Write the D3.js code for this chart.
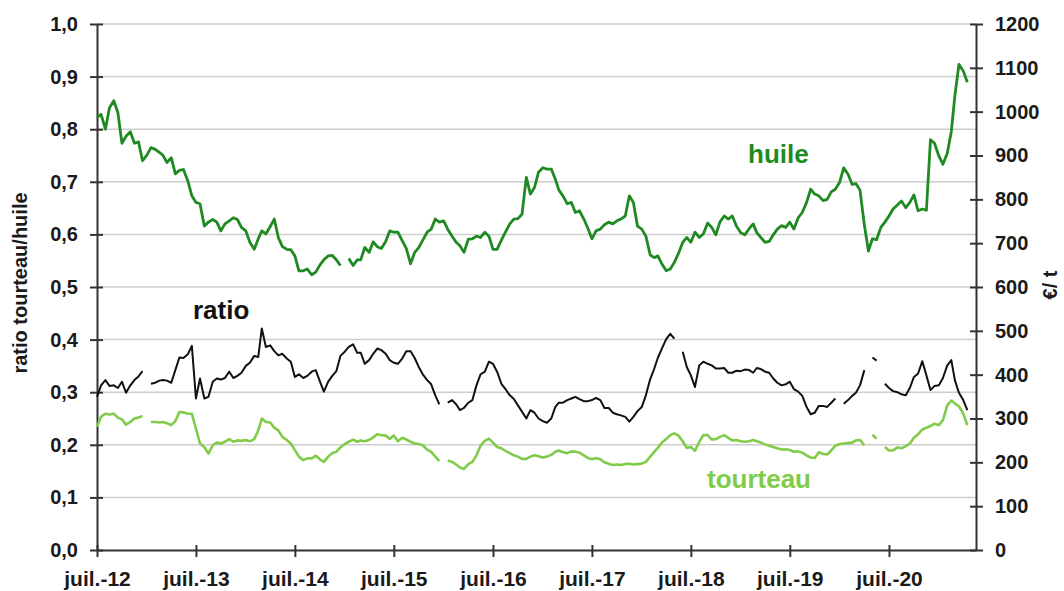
<!DOCTYPE html>
<html>
<head>
<meta charset="utf-8">
<script src="https://cdn.jsdelivr.net/npm/d3@7"></script>
<style>
  body { margin: 0; background: #fff; }
  svg text { font-family: "Liberation Sans", Arial, sans-serif; font-weight: bold; }
</style>
</head>
<body>
<svg id="chart" width="1064" height="591"></svg>
<script>
// semi-monthly series (1st and 16th of each month), starting 1 July 2012
// huile and tourteau in €/t (right axis), ratio on left axis
const huile = [
  986, 994, 960, 1009, 1025, 998, 928, 944, 954, 928,
  931, 888, 901, 918, 914, 907, 901, 884, 895, 858,
  866, 868, 842, 808, 793, 790, 739, 748, 754, 748,
  728, 744, 751, 758, 754, 736, 728, 702, 686, 710,
  728, 721, 738, 755, 713, 692, 686, 685, 671, 637,
  637, 641, 628, 634, 650, 662, 671, 672, 662, 649,
  null, 665, 649, 662, 662, 690, 679, 703, 692, 688,
  704, 728, 725, 725, 706, 688, 653, 679, 690, 707,
  725, 732, 755, 748, 751, 732, 716, 702, 694, 679,
  709, 710, 716, 713, 725, 716, 686, 686, 707, 725,
  744, 755, 756, 766, 850, 812, 827, 862, 872, 869,
  869, 846, 821, 808, 790, 793, 770, 774, 755, 734,
  710, 728, 732, 742, 748, 744, 751, 755, 762, 808,
  793, 739, 732, 716, 673, 667, 671, 653, 637, 641,
  656, 676, 702, 713, 702, 725, 713, 721, 746, 736,
  719, 748, 762, 755, 762, 739, 724, 719, 733, 744,
  724, 713, 702, 704, 719, 732, 740, 736, 748, 732,
  758, 770, 793, 823, 812, 808, 797, 800, 817, 823,
  839, 872, 857, 834, 836, 821, 742, 682, 710, 708,
  736, 748, 762, 778, 787, 796, 781, 793, 810, 774,
  778, 775, 936, 928, 899, 880, 905, 955, 1036, 1108,
  1093, 1067
];

const tourteau = [
  281, 304, 311, 309, 311, 302, 298, 286, 292, 300,
  302, 306, null, 292, 292, 291, 292, 289, 285, 294,
  315, 314, 311, 311, 277, 243, 235, 220, 239, 245,
  243, 247, 253, 247, 250, 249, 251, 248, 253, 273,
  300, 292, 291, 279, 273, 258, 251, 243, 228, 213,
  205, 209, 209, 215, 207, 201, 213, 221, 224, 234,
  242, 247, 252, 247, 250, 248, 251, 257, 264, 262,
  261, 253, 261, 248, 256, 252, 247, 243, 242, 239,
  229, 224, 213, 203, null, 204, 201, 195, 188, 185,
  196, 201, 216, 238, 249, 254, 245, 235, 232, 226,
  221, 216, 213, 208, 208, 213, 216, 214, 211, 213,
  217, 224, 227, 223, 221, 225, 224, 222, 216, 210,
  207, 210, 207, 200, 197, 194, 195, 194, 196, 197,
  195, 196, 197, 201, 213, 224, 233, 245, 253, 262,
  266, 261, 248, 233, 235, 226, 247, 262, 262, 252,
  253, 258, 262, 256, 250, 251, 248, 247, 248, 251,
  248, 245, 241, 238, 235, 232, 229, 230, 228, 224,
  225, 222, 216, 211, 210, 223, 219, 218, 227, 238,
  242, 243, 244, 245, 250, 251, 239, null, 263, 254,
  null, 235, 227, 227, 234, 232, 237, 243, 256, 264,
  275, 279, 283, 288, 285, 296, 330, 341, 334, 328,
  311, 285
];

const ratio = [
  0.291, 0.313, 0.323, 0.312, 0.313, 0.308, 0.320, 0.299, 0.313, 0.323,
  0.330, 0.340, null, 0.316, 0.318, 0.322, 0.323, 0.322, 0.318, 0.342,
  0.366, 0.365, 0.372, 0.388, 0.288, 0.326, 0.288, 0.291, 0.320, 0.326,
  0.324, 0.327, 0.339, 0.327, 0.331, 0.337, 0.350, 0.356, 0.369, 0.367,
  0.421, 0.386, 0.389, 0.378, 0.370, 0.373, 0.364, 0.358, 0.329, 0.334,
  0.327, 0.331, 0.339, 0.342, 0.321, 0.301, 0.320, 0.331, 0.340, 0.369,
  0.377, 0.386, 0.391, 0.375, 0.375, 0.354, 0.361, 0.373, 0.383, 0.380,
  0.373, 0.361, 0.356, 0.354, 0.364, 0.378, 0.378, 0.365, 0.348, 0.334,
  0.323, 0.315, 0.294, 0.277, null, 0.280, 0.285, 0.277, 0.266, 0.270,
  0.280, 0.285, 0.313, 0.334, 0.339, 0.358, 0.354, 0.339, 0.316, 0.306,
  0.294, 0.287, 0.275, 0.263, 0.250, 0.266, 0.261, 0.250, 0.245, 0.242,
  0.250, 0.272, 0.280, 0.280, 0.285, 0.288, 0.291, 0.287, 0.283, 0.283,
  0.285, 0.289, 0.285, 0.270, 0.270, 0.261, 0.258, 0.256, 0.253, 0.244,
  0.253, 0.264, 0.272, 0.294, 0.325, 0.345, 0.365, 0.383, 0.401, 0.411,
  0.402, null, 0.377, 0.348, 0.332, 0.310, 0.351, 0.358, 0.354, 0.351,
  0.345, 0.345, 0.346, 0.337, 0.337, 0.341, 0.340, 0.343, 0.342, 0.337,
  0.346, 0.344, 0.339, 0.337, 0.326, 0.318, 0.313, 0.315, 0.320, 0.306,
  0.301, 0.293, 0.272, 0.258, 0.261, 0.274, 0.274, 0.272, 0.280, 0.288,
  null, 0.278, 0.285, 0.293, 0.299, 0.313, 0.342, null, 0.366, 0.360,
  null, 0.316, 0.308, 0.302, 0.300, 0.296, 0.294, 0.308, 0.329, 0.335,
  0.359, 0.332, 0.304, 0.312, 0.313, 0.327, 0.351, 0.361, 0.323, 0.299,
  0.285, 0.266
];

const xTickYears = [2012, 2013, 2014, 2015, 2016, 2017, 2018, 2019, 2020];
const xTickLabels = ["juil.-12", "juil.-13", "juil.-14", "juil.-15", "juil.-16",
                     "juil.-17", "juil.-18", "juil.-19", "juil.-20"];
const leftTicks = [0, 0.1, 0.2, 0.3, 0.4, 0.5, 0.6, 0.7, 0.8, 0.9, 1.0];
const rightTicks = [0, 100, 200, 300, 400, 500, 600, 700, 800, 900, 1000, 1100, 1200];

const huileColor = "#1f8a22";
const tourteauColor = "#80cc4a";
const axisColor = "#333";

// date of the i-th semi-monthly point
function dateAt(i) {
  return new Date(2012, 6 + Math.floor(i / 2), i % 2 ? 16 : 1);
}

const svg = d3.select("#chart");

const x = d3.scaleTime()
  .domain([new Date(2012, 6, 1), new Date(2021, 4, 18)])
  .range([97, 976]);
const yL = d3.scaleLinear().domain([0, 1]).range([550, 24]);
const yR = d3.scaleLinear().domain([0, 1200]).range([550, 24]);

// gridlines
svg.append("g")
  .selectAll("line")
  .data(leftTicks.filter(d => d > 0))
  .join("line")
  .attr("x1", 97)
  .attr("x2", 976)
  .attr("y1", d => yL(d))
  .attr("y2", d => yL(d))
  .attr("stroke", "#cdcdcd")
  .attr("stroke-width", 1.5);

function styleAxis(g) {
  g.attr("font-family", null).attr("font-size", 20);
  g.select(".domain").attr("stroke", axisColor).attr("stroke-width", 2);
  g.selectAll(".tick line").attr("stroke", axisColor).attr("stroke-width", 2);
  g.selectAll(".tick text").attr("fill", "#1a1a1a");
}

// left axis
svg.append("g")
  .attr("transform", "translate(97,0)")
  .call(d3.axisLeft(yL)
    .tickValues(leftTicks)
    .tickFormat(d => d3.format(".1f")(d).replace(".", ","))
    .tickSize(7).tickSizeOuter(0).tickPadding(12))
  .call(styleAxis)
  .call(g => g.selectAll(".tick line").attr("x1", 6));

// right axis
svg.append("g")
  .attr("transform", "translate(976,0)")
  .call(d3.axisRight(yR)
    .tickValues(rightTicks)
    .tickFormat(d3.format("d"))
    .tickSize(7).tickSizeOuter(0).tickPadding(12))
  .call(styleAxis)
  .call(g => g.selectAll(".tick line").attr("x1", -6));

// bottom axis
svg.append("g")
  .attr("transform", "translate(0,550)")
  .call(d3.axisBottom(x)
    .tickValues(xTickYears.map(y => new Date(y, 6, 1)))
    .tickFormat((d, i) => xTickLabels[i])
    .tickSize(7).tickSizeOuter(0))
  .call(styleAxis)
  .call(g => g.selectAll(".tick line").attr("y1", -5))
  .call(g => g.selectAll(".tick text").attr("font-size", 21).attr("dy", null).attr("y", 36));

// series
function drawSeries(values, yScale, color, width) {
  const pts = values.map((v, i) => ({ date: dateAt(i), v }));
  const line = d3.line()
    .defined(d => d.v != null)
    .x(d => x(d.date))
    .y(d => yScale(d.v));
  svg.append("path")
    .datum(pts)
    .attr("fill", "none")
    .attr("stroke", color)
    .attr("stroke-width", width)
    .attr("stroke-linejoin", "round")
    .attr("d", line);
}

drawSeries(tourteau, yR, tourteauColor, 2.6);
drawSeries(huile, yR, huileColor, 2.8);
drawSeries(ratio, yL, "#111", 2);

// series labels
svg.append("text").attr("x", 748).attr("y", 163)
  .attr("font-size", 26).attr("fill", huileColor).text("huile");
svg.append("text").attr("x", 193).attr("y", 319)
  .attr("font-size", 26).attr("fill", "#111").text("ratio");
svg.append("text").attr("x", 707).attr("y", 488)
  .attr("font-size", 26).attr("fill", tourteauColor).text("tourteau");

// axis titles
svg.append("text")
  .attr("transform", "translate(27,283) rotate(-90)")
  .attr("text-anchor", "middle")
  .attr("font-size", 20).attr("fill", "#1a1a1a")
  .text("ratio tourteau/huile");
svg.append("text")
  .attr("transform", "translate(1057,285) rotate(-90)")
  .attr("text-anchor", "middle")
  .attr("font-size", 20).attr("fill", "#1a1a1a")
  .text("€/ t");
</script>
</body>
</html>
